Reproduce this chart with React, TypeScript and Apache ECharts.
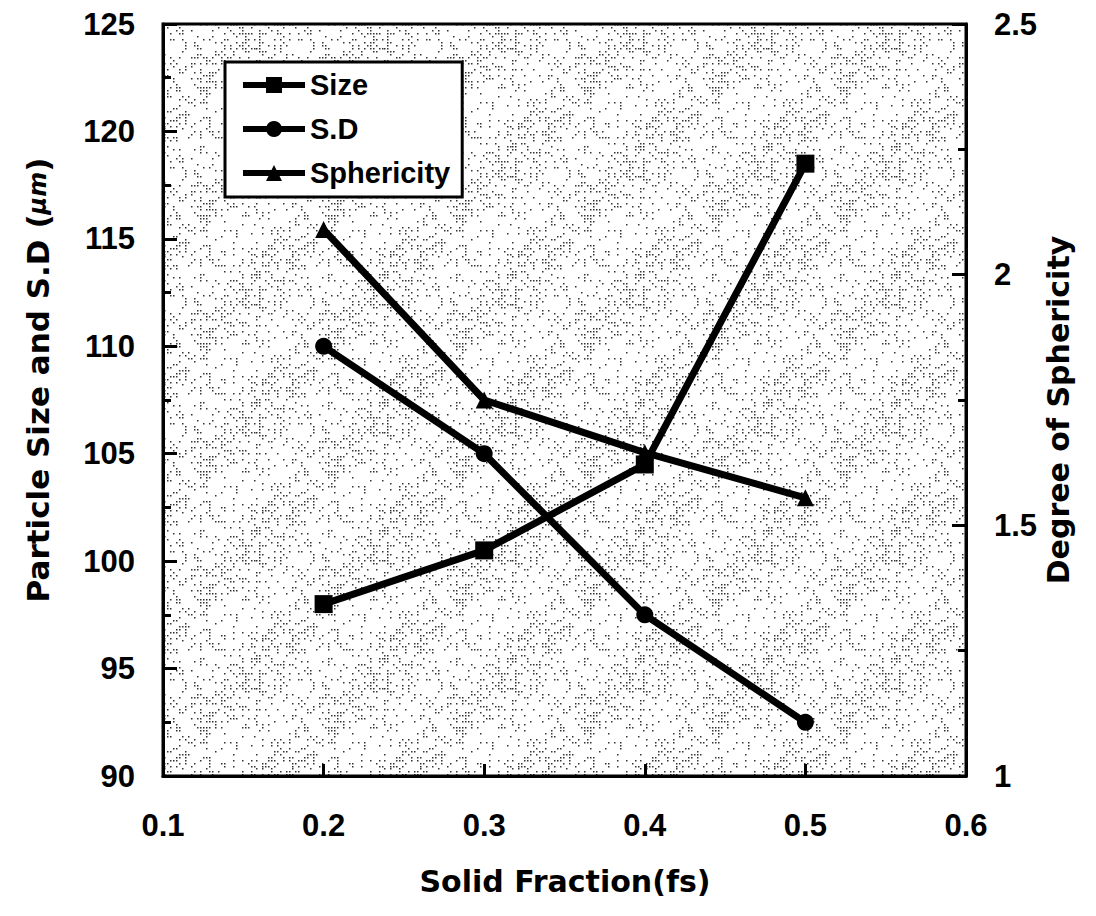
import React, { useEffect, useRef } from "react";
import * as echarts from "echarts";

const solidFraction = [0.2, 0.3, 0.4, 0.5];
const sizeValues = [98.0, 100.5, 104.5, 118.5];
const sdValues = [110.0, 105.0, 97.5, 92.5];
const sphericityValues = [2.09, 1.75, 1.645, 1.555];

const seriesNames = ["Size", "S.D", "Sphericity"];
const xTitle = "Solid Fraction(fs)";
const leftTitle = "Particle Size and S.D (";
const leftUnit = "\u03bcm";
const rightTitle = "Degree of Sphericity";

const FONT = "'Liberation Sans', Arial, Helvetica, sans-serif";
const TITLE_FONT = "'DejaVu Sans', 'Liberation Sans', Arial, sans-serif";

function makeStipple(): string {
  const c = document.createElement("canvas");
  const n = 128;
  c.width = n;
  c.height = n;
  const ctx = c.getContext("2d");
  if (!ctx) return "";
  ctx.fillStyle = "#ffffff";
  ctx.fillRect(0, 0, n, n);
  ctx.fillStyle = "#333333";
  for (let y = 0; y < n; y += 3) {
    for (let x = 0; x < n; x += 3) {
      let h = (x * 374761393 + y * 668265263) >>> 0;
      h = ((h ^ (h >>> 13)) * 1274126177) >>> 0;
      h = (h ^ (h >>> 16)) >>> 0;
      const band = Math.sin((x + y) / 20) * 0.5 + 0.5;
      const thr = 12 + band * 22;
      if (h % 100 < thr) ctx.fillRect(x, y, 1.5, 1.5);
    }
  }
  return c.toDataURL();
}

export default function App() {
  const ref = useRef<HTMLDivElement>(null);
  useEffect(() => {
    document.body.style.margin = "0";
    if (!ref.current) return;
    const chart = echarts.init(ref.current, undefined, { renderer: "svg" });
    const stipple = makeStipple();
    const pair = (ys: number[]) => solidFraction.map((x, i) => [x, ys[i]]);
    const lineCommon = {
      type: "line" as const,
      lineStyle: { color: "#000", width: 7 },
      itemStyle: { color: "#000" },
      symbolKeepAspect: true,
    };
    chart.setOption({
      animation: false,
      backgroundColor: "#ffffff",
      grid: {
        left: 163,
        top: 24,
        right: 130,
        bottom: 140,
        show: true,
        borderColor: "#000",
        borderWidth: 3,
        backgroundColor: stipple ? { image: stipple, repeat: "repeat" } : "#e6e6e6",
      },
      legend: {
        orient: "vertical",
        left: 225,
        top: 62,
        padding: [7, 12, 8, 15],
        itemGap: 12,
        itemWidth: 62,
        itemHeight: 20,
        borderColor: "#000",
        borderWidth: 3,
        backgroundColor: "#fff",
        data: seriesNames,
        lineStyle: { width: 6, color: "#000" },
        textStyle: {
          fontFamily: FONT,
          fontWeight: "bold",
          fontSize: 29,
          lineHeight: 32,
          color: "#000",
        },
      },
      xAxis: {
        type: "value",
        min: 0.1,
        max: 0.6,
        interval: 0.1,
        axisLine: { show: true, lineStyle: { color: "#000", width: 3 } },
        axisTick: { show: true, inside: true, length: 12, lineStyle: { color: "#000", width: 3 } },
        splitLine: { show: false },
        axisLabel: {
          margin: 34,
          fontFamily: FONT,
          fontWeight: "bold",
          fontSize: 31,
          color: "#000",
        },
      },
      yAxis: [
        {
          type: "value",
          min: 90,
          max: 125,
          interval: 5,
          axisLine: { show: true, lineStyle: { color: "#000", width: 3 } },
          axisTick: { show: true, inside: true, length: 14, lineStyle: { color: "#000", width: 3 } },
          minorTick: { show: true, splitNumber: 2, length: 8, lineStyle: { color: "#000", width: 3 } },
          splitLine: { show: false },
          axisLabel: {
            margin: 28,
            fontFamily: FONT,
            fontWeight: "bold",
            fontSize: 31,
            color: "#000",
          },
        },
        {
          type: "value",
          min: 1,
          max: 2.5,
          interval: 0.5,
          position: "right",
          axisLine: { show: true, lineStyle: { color: "#000", width: 3 } },
          axisTick: { show: true, inside: true, length: 14, lineStyle: { color: "#000", width: 3 } },
          minorTick: { show: true, splitNumber: 2, length: 8, lineStyle: { color: "#000", width: 3 } },
          splitLine: { show: false },
          axisLabel: {
            margin: 28,
            fontFamily: FONT,
            fontWeight: "bold",
            fontSize: 31,
            color: "#000",
          },
        },
      ],
      series: [
        { ...lineCommon, name: seriesNames[0], symbol: "rect", symbolSize: 18, data: pair(sizeValues) },
        { ...lineCommon, name: seriesNames[1], symbol: "circle", symbolSize: 17, data: pair(sdValues) },
        {
          ...lineCommon,
          name: seriesNames[2],
          symbol: "triangle",
          symbolSize: 17,
          yAxisIndex: 1,
          data: pair(sphericityValues),
        },
      ],
      graphic: [
        {
          type: "text",
          x: 565,
          y: 881,
          style: {
            text: xTitle,
            fontFamily: TITLE_FONT,
            fontWeight: "bold",
            fontSize: 30,
            fill: "#000",
            textAlign: "center",
            textVerticalAlign: "middle",
          },
        },
        {
          type: "text",
          x: 38,
          y: 380,
          rotation: Math.PI / 2,
          style: {
            text: "{a|" + leftTitle + "}{b|" + leftUnit + "}{a|)}",
            textAlign: "center",
            textVerticalAlign: "middle",
            rich: {
              a: { fontFamily: TITLE_FONT, fontWeight: "bold", fontSize: 31, fill: "#000", color: "#000" },
              b: { fontFamily: TITLE_FONT, fontWeight: "bold", fontStyle: "italic", fontSize: 24, fill: "#000", color: "#000" },
            },
          },
        },
        {
          type: "text",
          x: 1058,
          y: 410,
          rotation: Math.PI / 2,
          style: {
            text: rightTitle,
            fontFamily: TITLE_FONT,
            fontWeight: "bold",
            fontSize: 30,
            fill: "#000",
            textAlign: "center",
            textVerticalAlign: "middle",
          },
        },
      ],
    });
    return () => chart.dispose();
  }, []);
  return <div ref={ref} style={{ width: 1096, height: 916 }} />;
}
